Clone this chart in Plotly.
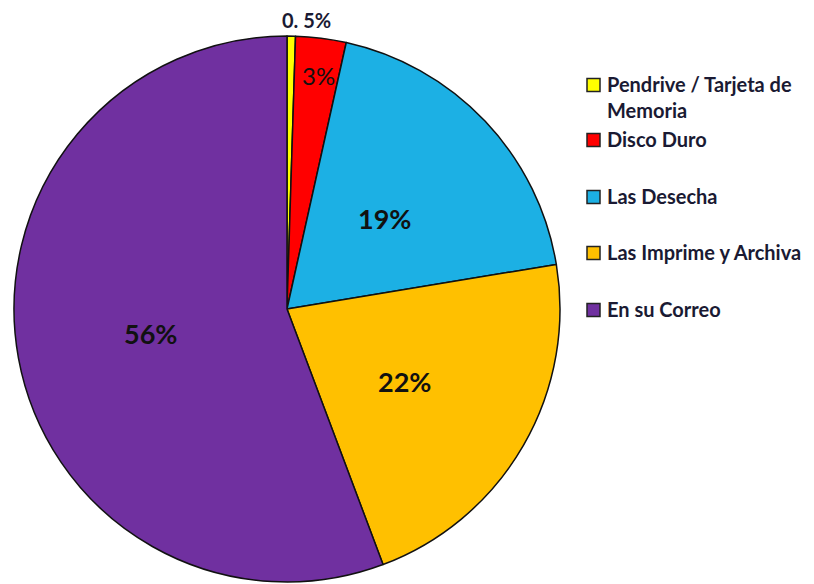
import plotly.graph_objects as go

categories = ["Pendrive / Tarjeta de<br>Memoria", "Disco Duro", "Las Desecha",
              "Las Imprime y Archiva", "En su Correo"]
values = [0.5, 3, 19, 22, 56]
pct_labels = ["0. 5%", "3%", "19%", "22%", "56%"]
colors = ["#FFFF00", "#FF0000", "#1CB0E4", "#FFC000", "#7030A0"]

W, H = 814, 584
cx, cy, r = 287, 309, 273

fig = go.Figure(go.Pie(
    labels=categories,
    values=values,
    sort=False,
    direction="clockwise",
    rotation=0,
    marker=dict(colors=colors, line=dict(color="#111111", width=1.5)),
    textinfo="none",
    hoverinfo="label+percent",
    showlegend=False,
    domain=dict(x=[(cx - r) / W, (cx + r) / W], y=[(H - cy - r) / H, (H - cy + r) / H]),
))

# percentage labels
label_pos = [(306, 20), (318, 76), (384, 218), (404, 381), (150, 333)]
label_font = [dict(size=20, color="#1a1a33", family="Lato", weight="bold"),
              dict(size=24, color="#111111", family="Lato"),
              dict(size=27, color="#111111", family="Lato", weight="bold"),
              dict(size=27, color="#111111", family="Lato", weight="bold"),
              dict(size=27, color="#111111", family="Lato", weight="bold")]
annotations = []
for t, (px, py), f in zip(pct_labels, label_pos, label_font):
    annotations.append(dict(x=px / W, y=1 - py / H, xref="paper", yref="paper",
                            text=t, showarrow=False, font=f,
                            xanchor="center", yanchor="middle"))

# manual legend
legend_rows = [85, 140, 197, 253, 310]
shapes = []
sq = 13
for lab, col, ry in zip(categories, colors, legend_rows):
    x0 = 587
    shapes.append(dict(type="rect", xref="paper", yref="paper",
                       x0=x0 / W, x1=(x0 + sq) / W,
                       y0=1 - (ry - sq / 2) / H, y1=1 - (ry + sq / 2) / H,
                       fillcolor=col, line=dict(color="#222222", width=1.5)))
    annotations.append(dict(x=605 / W, y=1 - (ry - 15) / H, xref="paper", yref="paper",
                            text=lab, showarrow=False, align="left",
                            font=dict(size=20, color="#1a1a33", family="Lato", weight="bold"),
                            xanchor="left", yanchor="top"))

fig.update_layout(width=W, height=H, margin=dict(l=0, r=0, t=0, b=0),
                  paper_bgcolor="white", plot_bgcolor="white",
                  annotations=annotations, shapes=shapes)
fig.write_html("out.html", config={"displayModeBar": False},
               post_script="document.body.style.margin='0';")
